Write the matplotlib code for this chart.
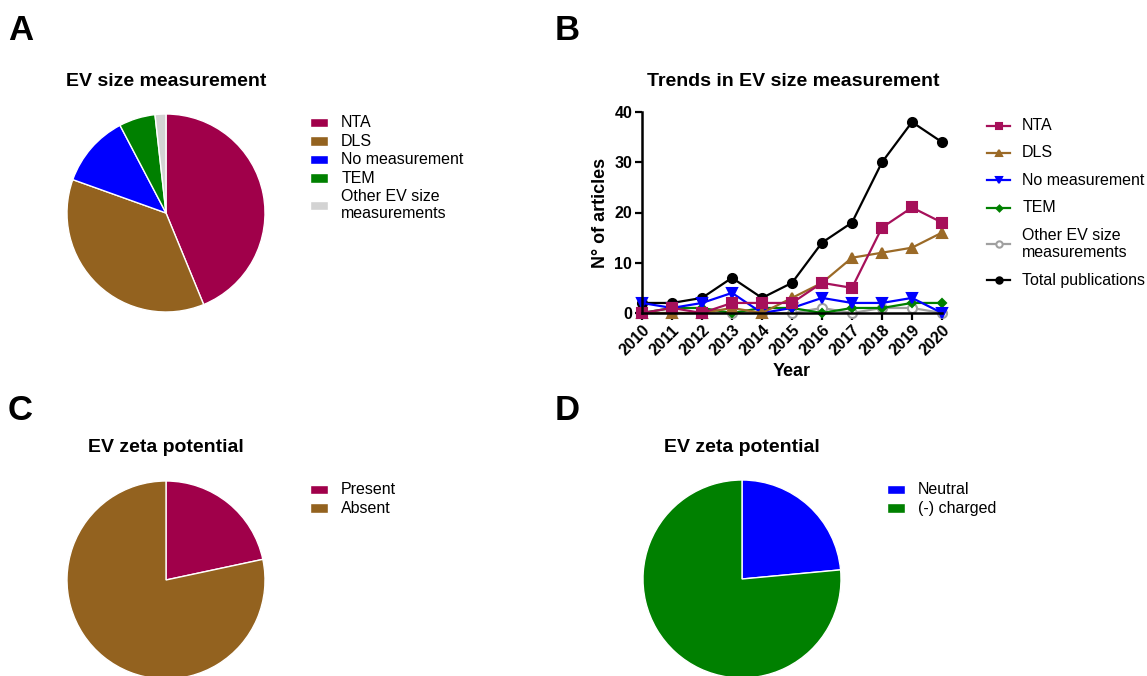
import numpy as np
import matplotlib
matplotlib.use("Agg")
import matplotlib.pyplot as plt

plt.rcParams['font.family'] = ['Liberation Sans', 'DejaVu Sans']

# -------------------------------
# DATA
# -------------------------------
size_labels = ["NTA", "DLS", "No measurement", "TEM", "Other EV size\nmeasurements"]
size_counts = [74, 62, 20, 10, 3]
size_colors = ["#A0004A", "#93621F", "#0000FF", "#008000", "#D3D3D3"]

years = np.arange(2010, 2021)
nta = [0, 1, 0, 2, 2, 2, 6, 5, 17, 21, 18]
dls = [0, 0, 0, 1, 0, 3, 6, 11, 12, 13, 16]
no_meas = [2, 1, 2, 4, 0, 1, 3, 2, 2, 3, 0]
tem = [0, 1, 1, 0, 1, 1, 0, 1, 1, 2, 2]
other = [0, 0, 0, 0, 0, 0, 1, 0, 1, 1, 0]
total = [2, 2, 3, 7, 3, 6, 14, 18, 30, 38, 34]

zeta_labels = ["Present", "Absent"]
zeta_counts = [34, 123]
zeta_colors = ["#A0004A", "#93621F"]

charge_labels = ["Neutral", "(-) charged"]
charge_counts = [8, 26]
charge_colors = ["#0000FF", "#008000"]

W, H = 1147, 676
fig = plt.figure(figsize=(W / 100, H / 100), dpi=100)


def fx(px):
    return px / W


def fy(py):
    return 1 - py / H


def center_handles(leg):
    for col in leg._legend_handle_box.get_children():
        for row in col.get_children():
            row.align = "center"


def pie_panel(cx, cy, r, counts, colors, labels, leg_x, leg_y):
    ax = fig.add_axes([fx(cx - r), fy(cy + r), 2 * r / W, 2 * r / H])
    wedges, _ = ax.pie(counts, colors=colors, startangle=90, counterclock=False,
                       wedgeprops=dict(edgecolor="white", linewidth=1.0))
    ax.set_xlim(-1, 1)
    ax.set_ylim(-1, 1)
    leg = fig.legend(wedges, labels, loc="upper left",
                     bbox_to_anchor=(fx(leg_x), fy(leg_y)), frameon=False,
                     fontsize=11.5, handlelength=1.15, handleheight=0.5,
                     handletextpad=0.8, labelspacing=0.22, borderpad=0,
                     borderaxespad=0)
    center_handles(leg)
    return ax


# -------------------------------
# PANEL A
# -------------------------------
pie_panel(166, 213, 99, size_counts, size_colors, size_labels, 310, 115)
fig.text(fx(166), fy(86), "EV size measurement", ha="center", va="baseline",
         fontsize=14, fontweight="bold")

# -------------------------------
# PANEL B
# -------------------------------
axb = fig.add_axes([fx(642), fy(313), 300 / W, 201 / H])
series = [
    ("Total publications", total, "black", "o", 6.5, "black"),
    ("Other EV size\nmeasurements", other, "#A0A0A0", "o", 6.5, "white"),
    ("TEM", tem, "#008000", "D", 4.2, "#008000"),
    ("No measurement", no_meas, "#0000FF", "v", 6.5, "#0000FF"),
    ("DLS", dls, "#9B6A27", "^", 6.5, "#9B6A27"),
    ("NTA", nta, "#A6105A", "s", 6.5, "#A6105A"),
]
lines = {}
for name, vals, col, mk, ms, mfc in series:
    ln, = axb.plot(years, vals, color=col, marker=mk, markersize=ms,
                   markerfacecolor=mfc, markeredgecolor=col, markeredgewidth=1.5,
                   linewidth=1.6, clip_on=False, label=name)
    lines[name] = ln

axb.set_xlim(2010, 2020)
axb.set_ylim(0, 40)
axb.set_xticks(years)
axb.set_yticks([0, 10, 20, 30, 40])
axb.set_xticklabels([str(y) for y in years], rotation=45, ha="right",
                    rotation_mode="anchor", fontweight="bold", fontsize=11.5)
for lab in axb.get_yticklabels():
    lab.set_fontweight("bold")
    lab.set_fontsize(11.5)
for s in ["top", "right"]:
    axb.spines[s].set_visible(False)
for s in ["left", "bottom"]:
    axb.spines[s].set_linewidth(1.8)
axb.tick_params(width=1.6, length=5, pad=2)
axb.set_xlabel("Year", fontsize=13, fontweight="bold", labelpad=3)
axb.set_ylabel("N° of articles", fontsize=13, fontweight="bold", labelpad=4)
fig.text(fx(793), fy(86), "Trends in EV size measurement", ha="center",
         va="baseline", fontsize=14, fontweight="bold")

order = ["NTA", "DLS", "No measurement", "TEM", "Other EV size\nmeasurements",
         "Total publications"]
legb = fig.legend([lines[n] for n in order], order, loc="upper left",
                  bbox_to_anchor=(fx(987), fy(118)), frameon=False,
                  fontsize=11.5, handlelength=1.45, handletextpad=0.75,
                  labelspacing=0.78, borderpad=0, borderaxespad=0,
                  markerscale=0.7)
center_handles(legb)

# -------------------------------
# PANELS C, D
# -------------------------------
pie_panel(166, 580, 99, zeta_counts, zeta_colors, zeta_labels, 310, 482)
fig.text(fx(166), fy(452), "EV zeta potential", ha="center", va="baseline",
         fontsize=14, fontweight="bold")

pie_panel(742, 579, 99, charge_counts, charge_colors, charge_labels, 887, 482)
fig.text(fx(742), fy(452), "EV zeta potential", ha="center", va="baseline",
         fontsize=14, fontweight="bold")

# panel letters
for letter, x, y in [("A", 8, 40), ("B", 555, 40), ("C", 8, 420), ("D", 555, 420)]:
    fig.text(fx(x), fy(y), letter, ha="left", va="baseline", fontsize=25,
             fontweight="bold")

fig.savefig("out.png", dpi=100)
